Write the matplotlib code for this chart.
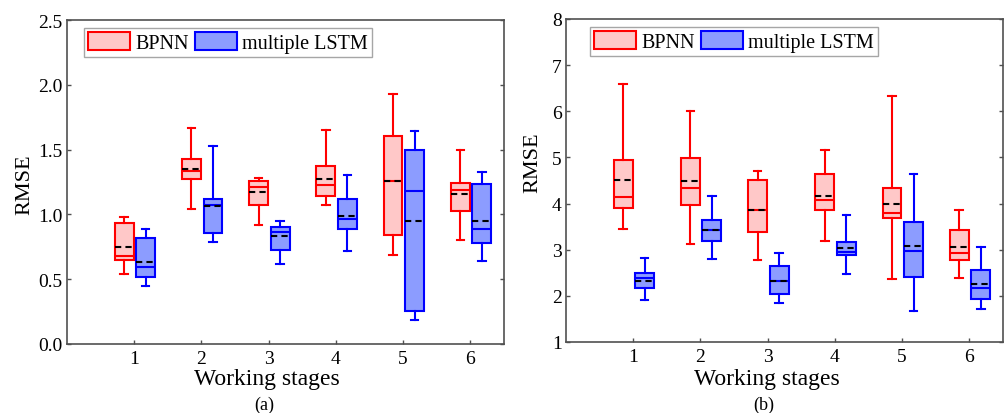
import matplotlib
matplotlib.use('Agg')
import matplotlib.pyplot as plt
from matplotlib.patches import Patch
from matplotlib.ticker import FormatStrFormatter

plt.rcParams['font.family'] = ['Liberation Serif', 'DejaVu Serif']
plt.rcParams['axes.unicode_minus'] = False

stages = [1, 2, 3, 4, 5, 6]

# (a) RMSE summary per working stage: whisker low, Q1, median, mean, Q3, whisker high
bp_a_lo = [0.54, 1.04, 0.92, 1.07, 0.69, 0.80]
bp_a_q1 = [0.645, 1.277, 1.074, 1.143, 0.845, 1.030]
bp_a_med = [0.676, 1.333, 1.213, 1.228, 1.256, 1.190]
bp_a_mean = [0.745, 1.351, 1.172, 1.272, 1.256, 1.156]
bp_a_q3 = [0.933, 1.429, 1.259, 1.375, 1.606, 1.246]
bp_a_hi = [0.981, 1.670, 1.282, 1.650, 1.930, 1.495]

ls_a_lo = [0.447, 0.784, 0.617, 0.714, 0.185, 0.637]
ls_a_q1 = [0.516, 0.856, 0.725, 0.886, 0.254, 0.776]
ls_a_med = [0.594, 1.074, 0.868, 0.961, 1.179, 0.886]
ls_a_mean = [0.635, 1.066, 0.832, 0.989, 0.951, 0.953]
ls_a_q3 = [0.815, 1.123, 0.904, 1.123, 1.495, 1.233]
ls_a_hi = [0.889, 1.526, 0.946, 1.305, 1.644, 1.326]

# (b)
bp_b_lo = [3.45, 3.12, 2.78, 3.18, 2.37, 2.38]
bp_b_q1 = [3.90, 3.96, 3.38, 3.85, 3.69, 2.77]
bp_b_med = [4.14, 4.33, 3.86, 4.08, 3.79, 2.93]
bp_b_mean = [4.52, 4.48, 3.87, 4.16, 4.00, 3.06]
bp_b_q3 = [4.95, 4.99, 4.50, 4.64, 4.33, 3.43]
bp_b_hi = [6.60, 6.01, 4.71, 5.15, 6.33, 3.85]

ls_b_lo = [1.92, 2.80, 1.84, 2.48, 1.68, 1.71]
ls_b_q1 = [2.17, 3.19, 2.05, 2.89, 2.41, 1.93]
ls_b_med = [2.38, 3.43, 2.33, 2.96, 2.97, 2.17]
ls_b_mean = [2.33, 3.43, 2.33, 3.03, 3.07, 2.25]
ls_b_q3 = [2.49, 3.65, 2.64, 3.16, 3.61, 2.56]
ls_b_hi = [2.82, 4.17, 2.93, 3.75, 4.63, 3.05]

bp_face, bp_edge = '#ffc8c8', '#ff0000'
ls_face, ls_edge = '#8c9cff', '#0000ff'
spine_col = '#505050'


def make_stats(lo, q1, med, mean, q3, hi):
    return [dict(whislo=a, q1=b, med=c, mean=d, q3=e, whishi=f, fliers=[])
            for a, b, c, d, e, f in zip(lo, q1, med, mean, q3, hi)]


def draw_boxes(ax, stats, offset, face, edge):
    w = 0.28
    ax.bxp(stats, positions=[s + offset for s in stages], widths=w,
           capwidths=w * 0.4, patch_artist=True, showmeans=True, meanline=True,
           showfliers=False, manage_ticks=False,
           boxprops=dict(facecolor=face, edgecolor=edge, linewidth=1.5),
           medianprops=dict(color=edge, linewidth=1.5),
           whiskerprops=dict(color=edge, linewidth=1.5),
           capprops=dict(color=edge, linewidth=1.5),
           meanprops=dict(color='black', linewidth=1.5, linestyle=(0, (3, 2))))


def style_axes(ax, leg_x):
    ax.set_xlim(0, 6.5)
    ax.set_xticks(stages)
    ax.tick_params(axis='both', direction='in', labelsize=14, length=3,
                   color=spine_col, width=1)
    ax.tick_params(axis='y', right=True, pad=3)
    ax.tick_params(axis='x', pad=4)
    for sp in ax.spines.values():
        sp.set_color(spine_col)
        sp.set_linewidth(1.2)
    handles = [Patch(facecolor=bp_face, edgecolor=bp_edge, linewidth=1.5, label='BPNN'),
               Patch(facecolor=ls_face, edgecolor=ls_edge, linewidth=1.5, label='multiple LSTM')]
    leg = ax.legend(handles=handles, loc='upper left', ncol=2, fontsize=14.5,
                    bbox_to_anchor=(leg_x, 0.975), fancybox=False,
                    handlelength=2.1, handleheight=1.0, handletextpad=0.25,
                    columnspacing=0.3, borderpad=0.2, borderaxespad=0.0)
    leg.get_frame().set_edgecolor('#909090')
    leg.get_frame().set_linewidth(1.0)


fig = plt.figure(figsize=(10.08, 4.14), dpi=100)
ax1 = fig.add_axes([0.0665, 0.1667, 0.4335, 0.7823])
ax2 = fig.add_axes([0.5615, 0.1715, 0.4335, 0.7803])

draw_boxes(ax1, make_stats(bp_a_lo, bp_a_q1, bp_a_med, bp_a_mean, bp_a_q3, bp_a_hi), -0.15, bp_face, bp_edge)
draw_boxes(ax1, make_stats(ls_a_lo, ls_a_q1, ls_a_med, ls_a_mean, ls_a_q3, ls_a_hi), 0.17, ls_face, ls_edge)
ax1.set_ylim(0, 2.5)
ax1.set_yticks([0.0, 0.5, 1.0, 1.5, 2.0, 2.5])
ax1.yaxis.set_major_formatter(FormatStrFormatter('%.1f'))
style_axes(ax1, 0.039)

draw_boxes(ax2, make_stats(bp_b_lo, bp_b_q1, bp_b_med, bp_b_mean, bp_b_q3, bp_b_hi), -0.15, bp_face, bp_edge)
draw_boxes(ax2, make_stats(ls_b_lo, ls_b_q1, ls_b_med, ls_b_mean, ls_b_q3, ls_b_hi), 0.17, ls_face, ls_edge)
ax2.set_ylim(1, 8)
ax2.set_yticks(range(1, 9))
style_axes(ax2, 0.055)

# axis titles and panel captions
fig.text(25 / 1008, 1 - 185 / 414, 'RMSE', rotation=90, fontsize=16, ha='center', va='center')
fig.text(533 / 1008, 1 - 163 / 414, 'RMSE', rotation=90, fontsize=16, ha='center', va='center')
fig.text(267 / 1008, 1 - 385 / 414, 'Working stages', fontsize=17, ha='center', va='baseline')
fig.text(767 / 1008, 1 - 385 / 414, 'Working stages', fontsize=17, ha='center', va='baseline')
fig.text(264 / 1008, 1 - 410 / 414, '(a)', fontsize=13, ha='center', va='baseline')
fig.text(764 / 1008, 1 - 410 / 414, '(b)', fontsize=13, ha='center', va='baseline')

fig.savefig('out.png', dpi=100)
